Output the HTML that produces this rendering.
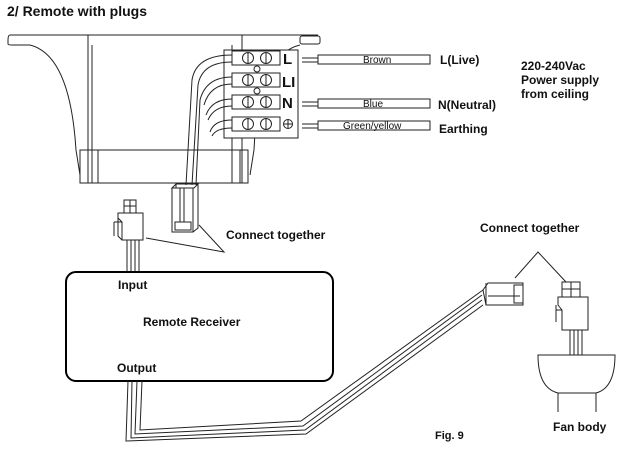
<!DOCTYPE html>
<html><head><style>
html,body{margin:0;padding:0;background:#fff;}
svg{display:block;}
text{font-family:"Liberation Sans",Arial,sans-serif;font-weight:bold;fill:#111;}
</style></head><body>
<svg width="626" height="453" viewBox="0 0 626 453" xmlns="http://www.w3.org/2000/svg">
<g fill="none" stroke="#222" stroke-width="1">
<text x="7" y="16" font-size="14" stroke="none">2/ Remote with plugs</text>
<!-- canopy -->
<path d="M10 35 H318 M10 35 Q8 35 8 40 V44 Q8 45 12 45 H30 M88 35 V183 M242 35 V183 M92 45 V150 M232 45 V150"/>
<path d="M30 45 Q70 55 76 150 L80 175"/>
<path d="M300 45 Q258 55 254 150 L250 175"/>
<path d="M80 150 H248 V183 H80 Z M92 150 V183 M98 150 V183 M232 150 V183 M240 150 V183"/>
<!-- terminal block -->
<rect x="224" y="50" width="74" height="88" fill="#fff"/>
<g fill="#fff">
<rect x="232" y="51" width="48" height="14"/>
<rect x="232" y="73" width="48" height="14"/>
<rect x="232" y="95" width="48" height="14"/>
<rect x="232" y="117" width="48" height="14"/>
</g>
<g fill="#fff">
<circle cx="248" cy="58" r="5.5"/><circle cx="266" cy="58" r="5.5"/>
<circle cx="248" cy="80" r="5.5"/><circle cx="266" cy="80" r="5.5"/>
<circle cx="248" cy="102" r="5.5"/><circle cx="266" cy="102" r="5.5"/>
<circle cx="248" cy="124" r="5.5"/><circle cx="266" cy="124" r="5.5"/>
<circle cx="257" cy="69" r="3"/><circle cx="257" cy="91" r="3"/>
<circle cx="288" cy="124" r="4.5"/>
</g>
<path d="M248 53 V63 M266 53 V63 M248 75 V85 M266 75 V85 M248 97 V107 M266 97 V107 M248 119 V129 M266 119 V129 M288 120 V128 M284 124 H292"/>
<text x="283" y="64" font-size="15" stroke="none">L</text>
<text x="282" y="87" font-size="15" stroke="none">LI</text>
<text x="282" y="108" font-size="15" stroke="none">N</text>
<!-- wires from block -->
<path d="M232 55 Q196 55 192 80 L186 185 M232 62 Q202 62 198 85 L192 185 M232 77 Q206 77 200 100 L196 185 M232 84 Q210 84 204 105 M232 99 Q212 99 206 115 M232 106 Q214 106 208 120 M232 120 Q214 120 210 132 M232 128 Q216 128 212 136"/>
<!-- canopy connector -->
<path d="M172 188 L176 184 H198 L194 188 Z M172 188 V232 H193 V188 M176 184 V188 M198 184 V228 L193 232 M180 188 V222 M184 188 V222"/>
<rect x="175" y="222" width="16" height="8"/>
<!-- right wires -->
<path d="M302 58 H318 M302 62 H318 M302 102 H318 M302 106 H318 M302 124 H318 M302 128 H318"/>
<rect x="318" y="55" width="112" height="9"/>
<rect x="318" y="99" width="112" height="9"/>
<rect x="318" y="121" width="112" height="9"/>
<rect x="300" y="36" width="20" height="8" rx="2"/>
<g stroke="none" font-weight="normal" font-size="10">
<text x="363" y="63" style="font-weight:normal">Brown</text>
<text x="363" y="107" style="font-weight:normal">Blue</text>
<text x="343" y="129" style="font-weight:normal">Green/yellow</text>
</g>
<g stroke="none" font-size="12">
<text x="440" y="64">L(Live)</text>
<text x="438" y="109">N(Neutral)</text>
<text x="439" y="133">Earthing</text>
<text x="521" y="70">220-240Vac</text>
<text x="521" y="84">Power supply</text>
<text x="521" y="98">from ceiling</text>
<text x="226" y="239">Connect together</text>
<text x="480" y="232">Connect together</text>
<text x="118" y="289">Input</text>
<text x="143" y="326">Remote Receiver</text>
<text x="117" y="372">Output</text>
<text x="553" y="431">Fan body</text>
<text x="435" y="439" font-size="11">Fig. 9</text>
</g>
<!-- pointer lines -->
<path d="M146 238 L224 252 L199 225 M515 278 L538 252 L566 282"/>
<!-- left connector -->
<path d="M124 200 H136 V213 H124 Z M130 200 V213 M124 206 H136"/>
<path d="M118 213 H143 V240 H122 V222 L118 218 Z M118 218 V236 L122 240 M114 222 V236 M122 222 H114"/>
<path d="M127 240 V272 M131 240 V272 M135 240 V272 M139 240 V272"/>
<!-- box -->
<rect x="66" y="272" width="267" height="109" rx="10" stroke="#000" stroke-width="2"/>
<!-- output cable -->
<path d="M128 381 L126 441 L306 434 L483 305 M132 381 L131 438 L305 430 L482 300 M137 381 L135 434 L303 426 L482 295 M142 381 L140 430 L301 421 L483 290"/>
<!-- right cable connector -->
<path d="M483 290 L488 283 H523 V305 H486 Z M486 283 V305 M488 296 H520"/>
<rect x="514" y="285" width="9" height="18"/>
<!-- fan connector -->
<path d="M562 282 H580 V297 H562 Z M571 282 V297 M562 289 H580"/>
<path d="M558 297 H588 V330 H562 V310 L558 305 Z M556 305 V322 M562 310 H556"/>
<path d="M570 330 V355 M574 330 V355 M578 330 V355 M582 330 V355"/>
<!-- fan body -->
<path d="M538 355 H615 Q615 388 596 393 H558 Q538 388 538 355 Z M558 393 V412 M596 393 V412"/>
</g>
</svg>
</body></html>
